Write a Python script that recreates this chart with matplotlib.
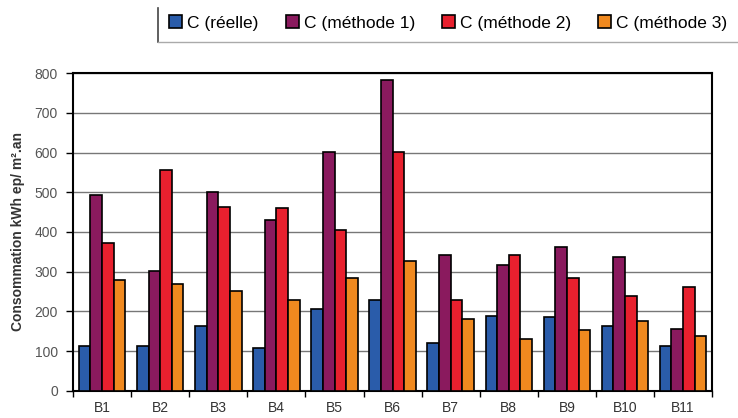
import numpy as np
import matplotlib
matplotlib.use("Agg")
import matplotlib.pyplot as plt
from matplotlib.lines import Line2D

plt.rcParams['font.family'] = ['Liberation Sans', 'DejaVu Sans']

# Données
batiments = ['B1', 'B2', 'B3', 'B4', 'B5', 'B6', 'B7', 'B8', 'B9', 'B10', 'B11']
c_reelle = [112, 114, 162, 109, 207, 229, 121, 189, 185, 164, 112]
c_methode1 = [494, 301, 500, 429, 601, 783, 341, 316, 362, 337, 155]
c_methode2 = [373, 556, 464, 460, 405, 601, 228, 341, 284, 238, 261]
c_methode3 = [280, 268, 251, 229, 284, 328, 181, 131, 152, 176, 139]

series = [c_reelle, c_methode1, c_methode2, c_methode3]
noms = ['C (réelle)', 'C (méthode 1)', 'C (méthode 2)', 'C (méthode 3)']
couleurs = ['#2a5caa', '#8a1a5e', '#e8202e', '#f0891f']

fig = plt.figure(figsize=(7.38, 4.18), dpi=100)
ax = fig.add_axes([0.099, 0.065, 0.866, 0.76])

x = np.arange(len(batiments))
w = 0.2
for i, (vals, nom, col) in enumerate(zip(series, noms, couleurs)):
    ax.bar(x + (i - 1.5) * w, vals, width=w, color=col, edgecolor='black',
           linewidth=1.2, label=nom, zorder=3)

ax.set_xlim(-0.5, len(batiments) - 0.5)
ax.set_ylim(0, 800)
ax.set_yticks(range(0, 801, 100))
ax.yaxis.grid(True, color='#777777', linewidth=1, zorder=0)
ax.set_xticks(x)
ax.set_xticklabels(batiments)
ax.set_xticks(np.arange(-0.5, len(batiments), 1), minor=True)
ax.tick_params(axis='x', which='major', length=0, pad=7, labelsize=10, labelcolor='#333333')
ax.tick_params(axis='x', which='minor', length=4, width=1, direction='out')
ax.tick_params(axis='y', length=5, width=1, pad=6, labelsize=10, labelcolor='#555555')
for s in ax.spines.values():
    s.set_linewidth(1.5)
    s.set_color('black')

ax.set_ylabel('Consommation kWh ep/ m².an', fontsize=10, fontweight='bold',
              color='#333333', labelpad=7)

# Légende en haut
fig.legend(loc='center left', bbox_to_anchor=(0.229, 0.945), ncol=4, frameon=False,
           fontsize=12.5, handlelength=0.75, handleheight=0.75, handletextpad=0.3,
           columnspacing=1.55, borderpad=0, borderaxespad=0)
fig.add_artist(Line2D([0.214, 0.214], [0.9, 0.98], color='#444444', lw=1.2))
fig.add_artist(Line2D([0.214, 1.0], [0.9, 0.9], color='#aaaaaa', lw=1))

fig.savefig('out.png', dpi=100)
